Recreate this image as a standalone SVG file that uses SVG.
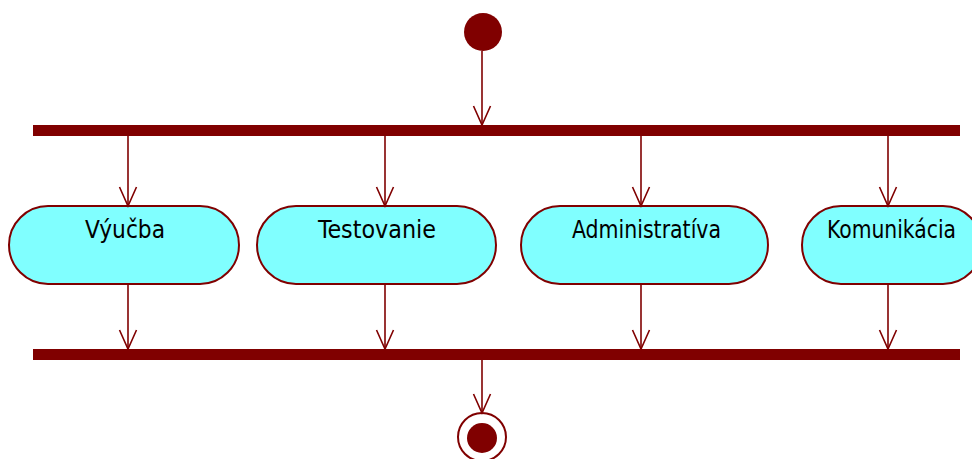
<svg xmlns="http://www.w3.org/2000/svg" width="972" height="459" viewBox="0 0 972 459">
  <style>
    .flow { stroke: #800000; stroke-width: 1.6; fill: none; }
    .bar { fill: #800000; }
    .action { fill: #80ffff; stroke: #800000; stroke-width: 2; }
    .label { font-family: "DejaVu Sans Condensed", "DejaVu Sans", sans-serif; font-size: 24.5px; fill: #000000; text-anchor: middle; }
  </style>
  <defs>
    <marker id="open" markerUnits="userSpaceOnUse" markerWidth="22" markerHeight="22" viewBox="-20 -10 22 20" refX="0" refY="0" orient="auto">
      <path d="M-19,-8.5 L0,0 L-19,8.5" fill="none" stroke="#800000" stroke-width="1.6"/>
    </marker>
  </defs>

  <rect width="972" height="459" fill="#ffffff"/>

  <!-- initial node -->
  <g id="start">
    <circle cx="483" cy="32" r="19" fill="#800000"/>
  </g>

  <!-- fork and join bars -->
  <g id="fork">
    <rect class="bar" x="33" y="125" width="927" height="11"/>
  </g>
  <g id="join">
    <rect class="bar" x="33" y="349" width="927" height="11"/>
  </g>

  <!-- actions -->
  <g id="vyucba">
    <rect class="action" x="9" y="206" width="230" height="78" rx="39" ry="39"/>
    <text class="label" x="125" y="238" textLength="80" lengthAdjust="spacingAndGlyphs">Výučba</text>
  </g>
  <g id="testovanie">
    <rect class="action" x="257" y="206" width="239" height="78" rx="39" ry="39"/>
    <text class="label" x="377" y="238" textLength="118" lengthAdjust="spacingAndGlyphs">Testovanie</text>
  </g>
  <g id="administrativa">
    <rect class="action" x="521" y="206" width="247" height="78" rx="39" ry="39"/>
    <text class="label" x="646.5" y="238" textLength="149" lengthAdjust="spacingAndGlyphs">Administratíva</text>
  </g>
  <g id="komunikacia">
    <rect class="action" x="802" y="206" width="180" height="78" rx="39" ry="39"/>
    <text class="label" x="891.5" y="238" textLength="129" lengthAdjust="spacingAndGlyphs">Komunikácia</text>
  </g>

  <!-- final node -->
  <g id="end">
    <circle cx="482" cy="437" r="24" fill="#ffffff" stroke="#800000" stroke-width="2"/>
    <circle cx="482" cy="438" r="15" fill="#800000"/>
  </g>

  <!-- control flows -->
  <g id="connectors">
    <line class="flow" x1="482" y1="51" x2="482" y2="125" marker-end="url(#open)"/>

    <line class="flow" x1="128" y1="136" x2="128" y2="206" marker-end="url(#open)"/>
    <line class="flow" x1="385" y1="136" x2="385" y2="206" marker-end="url(#open)"/>
    <line class="flow" x1="641" y1="136" x2="641" y2="206" marker-end="url(#open)"/>
    <line class="flow" x1="888" y1="136" x2="888" y2="206" marker-end="url(#open)"/>

    <line class="flow" x1="128" y1="284" x2="128" y2="349" marker-end="url(#open)"/>
    <line class="flow" x1="385" y1="284" x2="385" y2="349" marker-end="url(#open)"/>
    <line class="flow" x1="641" y1="284" x2="641" y2="349" marker-end="url(#open)"/>
    <line class="flow" x1="888" y1="284" x2="888" y2="349" marker-end="url(#open)"/>

    <line class="flow" x1="482" y1="360" x2="482" y2="413" marker-end="url(#open)"/>
  </g>
</svg>
